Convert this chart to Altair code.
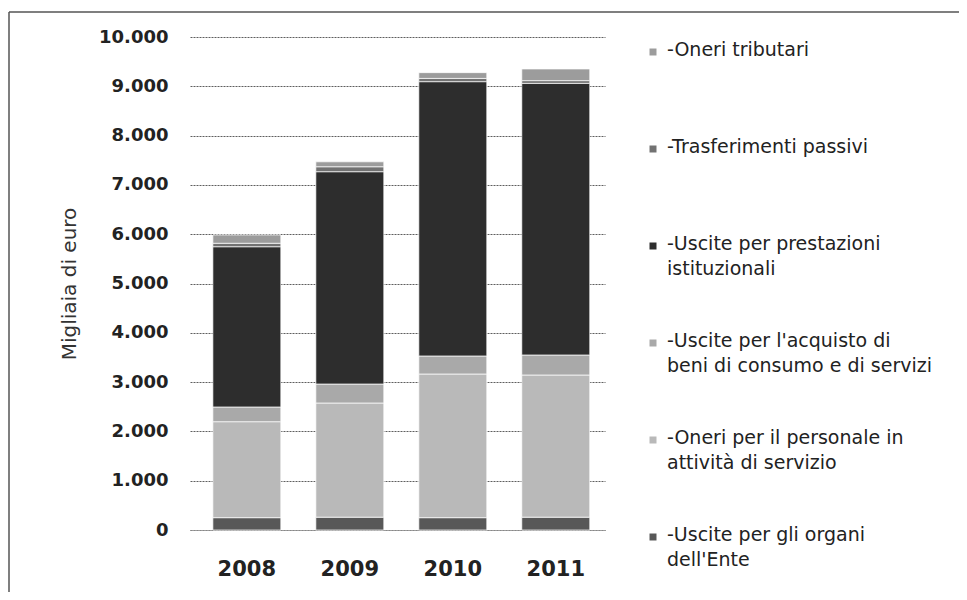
import altair as alt
import pandas as pd

years = ["2008", "2009", "2010", "2011"]

series_names = [
    "Uscite per gli organi dell'Ente",
    "Oneri per il personale in attività di servizio",
    "Uscite per l'acquisto di beni di consumo e di servizi",
    "Uscite per prestazioni istituzionali",
    "Trasferimenti passivi",
    "Oneri tributari",
]
legend_labels = [
    "-Uscite per gli organi|dell'Ente",
    "-Oneri per il personale in|attività di servizio",
    "-Uscite per l'acquisto di|beni di consumo e di servizi",
    "-Uscite per prestazioni|istituzionali",
    "-Trasferimenti passivi",
    "-Oneri tributari",
]

# migliaia di euro, bottom -> top of the stack
organi = [250, 260, 250, 260]
personale = [1947, 2316, 2914, 2884]
acquisto = [298, 385, 366, 406]
prestazioni = [3251, 4307, 5564, 5510]
trasferimenti = [70, 100, 66, 55]
tributari = [168, 100, 117, 236]

colors = ["#585858", "#b9b9b9", "#a9a9a9", "#2d2d2d", "#727272", "#9c9c9c"]

all_values = [organi, personale, acquisto, prestazioni, trasferimenti, tributari]
rows = []
for i, (name, vals) in enumerate(zip(series_names, all_values)):
    for y, v in zip(years, vals):
        rows.append({"anno": y, "serie": name, "valore": v, "ord": i})
df = pd.DataFrame(rows)

df_leg = pd.DataFrame({"serie": series_names, "label": legend_labels})
legend_order = list(reversed(series_names))

color_scale = alt.Scale(domain=series_names, range=colors)
FONT = "DejaVu Sans"

bars = alt.Chart(df).mark_bar(stroke="white", strokeWidth=0.7).encode(
    x=alt.X(
        "anno:N",
        sort=years,
        scale=alt.Scale(paddingInner=0.34, paddingOuter=0.185, align=0.6),
        axis=alt.Axis(
            title=None, labelAngle=0, labelFont=FONT, labelFontWeight="bold",
            labelFontSize=21, labelColor="#222", labelPadding=28, ticks=False,
            domain=True, domainColor="#888", domainDash=[2, 1],
        ),
    ),
    y=alt.Y(
        "valore:Q",
        stack="zero",
        scale=alt.Scale(domain=[0, 10000], nice=False),
        axis=alt.Axis(
            values=list(range(0, 10001, 1000)),
            labelExpr="replace(format(datum.value, ','), ',', '.')",
            labelFont=FONT, labelFontWeight="bold", labelFontSize=18,
            labelColor="#222", labelPadding=22, ticks=False, domain=False,
            grid=True, gridColor="#5e5e5e", gridDash=[2, 1], gridWidth=1,
            title="Migliaia di euro", titleFont=FONT, titleFontWeight="normal",
            titleFontSize=20, titleColor="#333", titlePadding=19,
        ),
    ),
    color=alt.Color("serie:N", scale=color_scale, legend=None),
    order=alt.Order("ord:Q"),
)

leg_y = alt.Y(
    "serie:N",
    scale=alt.Scale(type="point", domain=legend_order, range=[15, 500], padding=0),
    axis=None,
)

leg_sym = alt.Chart(df_leg).mark_square(size=49, opacity=1).encode(
    x=alt.value(463),
    y=leg_y,
    color=alt.Color("serie:N", scale=color_scale, legend=None),
)

leg_txt = alt.Chart(df_leg).mark_text(
    align="left", baseline="top", dy=-11, lineBreak="|", fontSize=19,
    lineHeight=25, font=FONT, color="#222",
).encode(
    x=alt.value(477),
    y=leg_y,
    text="label:N",
)

frame_df = pd.DataFrame({"k": [0]})
frame_left = alt.Chart(frame_df).mark_rule(color="#555", strokeWidth=1.5).encode(
    x=alt.value(-181), y=alt.value(-25), y2=alt.value(570)
)
frame_top = alt.Chart(frame_df).mark_rule(color="#555", strokeWidth=1.5).encode(
    x=alt.value(-181), x2=alt.value(775), y=alt.value(-25)
)

chart = alt.layer(bars, leg_sym, leg_txt, frame_left, frame_top).resolve_scale(
    y="independent"
).properties(
    width=415,
    height=493,
    autosize=alt.AutoSizeParams(type="none"),
    padding={"left": 182, "top": 29, "right": 354, "bottom": 62},
    background="white",
).configure_view(stroke=None)

chart.save("out.html", embed_options={"renderer": "svg", "actions": False})
